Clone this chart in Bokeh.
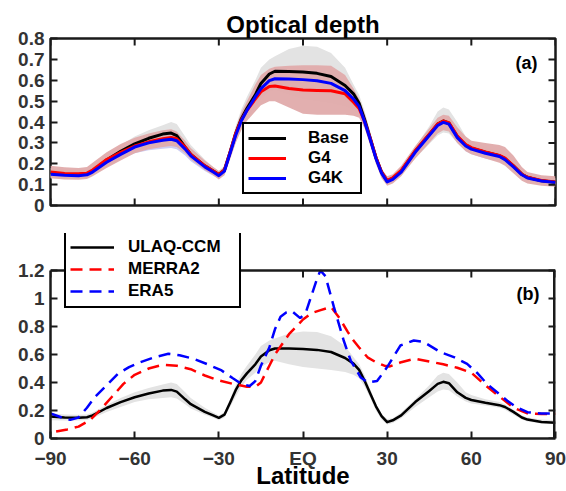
from bokeh.plotting import figure
from bokeh.models import Range1d, LinearAxis, FixedTicker, Legend, LegendItem, Label, Span
from bokeh.layouts import column
from bokeh.embed import file_html
from bokeh.resources import INLINE

# ---------------- data ----------------
lat = [-90, -85, -80, -77, -75, -70, -65, -60, -55, -50,
       -47, -45, -42, -40, -35, -32, -30, -28, -26, -24,
       -22, -20, -17, -15, -12, -10, -5, 0, 5, 10,
       15, 18, 20, 22, 24, 26, 28, 30, 32, 35,
       40, 45, 48, 50, 52, 55, 58, 60, 65, 70,
       72, 75, 78, 80, 85, 90]

base = [0.157, 0.150, 0.148, 0.152, 0.165, 0.218, 0.260, 0.295, 0.322, 0.342,
        0.347, 0.335, 0.280, 0.245, 0.190, 0.165, 0.148, 0.170, 0.255, 0.345,
        0.415, 0.465, 0.530, 0.585, 0.630, 0.643, 0.642, 0.640, 0.633, 0.618,
        0.575, 0.535, 0.490, 0.410, 0.320, 0.230, 0.160, 0.117, 0.130, 0.165,
        0.260, 0.340, 0.390, 0.405, 0.395, 0.330, 0.290, 0.275, 0.255, 0.238,
        0.225, 0.190, 0.150, 0.135, 0.118, 0.112]

g4 = [0.160, 0.153, 0.152, 0.155, 0.170, 0.220, 0.255, 0.285, 0.305, 0.320,
      0.326, 0.320, 0.280, 0.245, 0.190, 0.165, 0.148, 0.170, 0.255, 0.345,
      0.410, 0.455, 0.510, 0.545, 0.570, 0.572, 0.560, 0.553, 0.551, 0.550,
      0.535, 0.495, 0.465, 0.400, 0.320, 0.230, 0.160, 0.120, 0.133, 0.168,
      0.262, 0.342, 0.390, 0.405, 0.397, 0.333, 0.292, 0.277, 0.257, 0.240,
      0.227, 0.190, 0.150, 0.135, 0.120, 0.113]

g4k = [0.150, 0.145, 0.143, 0.147, 0.160, 0.207, 0.245, 0.280, 0.300, 0.313,
       0.317, 0.310, 0.270, 0.238, 0.185, 0.160, 0.143, 0.165, 0.250, 0.335,
       0.405, 0.455, 0.520, 0.560, 0.598, 0.607, 0.606, 0.603, 0.598, 0.585,
       0.550, 0.510, 0.475, 0.400, 0.315, 0.225, 0.155, 0.113, 0.125, 0.160,
       0.255, 0.335, 0.383, 0.398, 0.390, 0.325, 0.285, 0.270, 0.250, 0.235,
       0.220, 0.185, 0.147, 0.132, 0.117, 0.110]

base_hi = [0.180, 0.172, 0.170, 0.172, 0.185, 0.240, 0.290, 0.330, 0.360, 0.385,
           0.400, 0.390, 0.330, 0.290, 0.220, 0.185, 0.165, 0.190, 0.280, 0.380,
           0.460, 0.520, 0.600, 0.660, 0.700, 0.715, 0.750, 0.765, 0.760, 0.730,
           0.660, 0.580, 0.530, 0.450, 0.350, 0.250, 0.175, 0.140, 0.145, 0.185,
           0.280, 0.380, 0.450, 0.470, 0.460, 0.400, 0.330, 0.310, 0.280, 0.260,
           0.245, 0.205, 0.165, 0.150, 0.135, 0.130]

base_lo = [0.130, 0.128, 0.128, 0.132, 0.145, 0.190, 0.225, 0.260, 0.280, 0.290,
           0.295, 0.285, 0.245, 0.215, 0.170, 0.148, 0.130, 0.150, 0.225, 0.300,
           0.370, 0.420, 0.470, 0.510, 0.545, 0.555, 0.530, 0.510, 0.500, 0.490,
           0.475, 0.455, 0.430, 0.370, 0.290, 0.200, 0.135, 0.100, 0.110, 0.145,
           0.225, 0.295, 0.335, 0.350, 0.345, 0.300, 0.265, 0.250, 0.235, 0.220,
           0.205, 0.170, 0.135, 0.122, 0.108, 0.103]

g4_hi = [0.190, 0.183, 0.180, 0.185, 0.205, 0.255, 0.295, 0.325, 0.345, 0.360,
         0.365, 0.355, 0.310, 0.275, 0.215, 0.185, 0.165, 0.185, 0.275, 0.370,
         0.445, 0.500, 0.580, 0.625, 0.655, 0.665, 0.670, 0.672, 0.672, 0.670,
         0.625, 0.560, 0.510, 0.440, 0.350, 0.255, 0.175, 0.140, 0.150, 0.190,
         0.285, 0.370, 0.420, 0.435, 0.430, 0.375, 0.330, 0.310, 0.300, 0.290,
         0.280, 0.240, 0.185, 0.160, 0.145, 0.140]

g4_lo = [0.130, 0.125, 0.123, 0.127, 0.140, 0.180, 0.215, 0.250, 0.270, 0.280,
         0.285, 0.280, 0.250, 0.220, 0.170, 0.145, 0.125, 0.145, 0.220, 0.300,
         0.360, 0.405, 0.450, 0.480, 0.500, 0.500, 0.470, 0.440, 0.435, 0.435,
         0.435, 0.430, 0.420, 0.370, 0.285, 0.200, 0.130, 0.095, 0.105, 0.140,
         0.225, 0.300, 0.345, 0.360, 0.355, 0.300, 0.260, 0.245, 0.225, 0.205,
         0.190, 0.155, 0.118, 0.105, 0.095, 0.090]

g4k_lo = [0.135, 0.130, 0.128, 0.132, 0.145, 0.185, 0.220, 0.250, 0.265, 0.272,
          0.275, 0.270, 0.240, 0.212, 0.165, 0.143, 0.128, 0.148, 0.225, 0.305,
          0.370, 0.415, 0.470, 0.510, 0.550, 0.560, 0.560, 0.555, 0.550, 0.540,
          0.510, 0.475, 0.440, 0.370, 0.290, 0.205, 0.140, 0.100, 0.110, 0.145,
          0.230, 0.305, 0.350, 0.365, 0.360, 0.300, 0.260, 0.245, 0.225, 0.210,
          0.195, 0.165, 0.130, 0.118, 0.105, 0.100]

merra_lat = [-88, -84, -80, -76, -72, -68, -64, -60, -55, -50,
             -45, -40, -35, -30, -25, -20, -17, -15, -12, -10,
             -5, 0, 3, 6, 10, 13, 16, 18, 20, 23,
             26, 29, 31, 35, 40, 45, 50, 55, 60, 65,
             70, 75, 80, 85, 90]
merra2 = [0.050, 0.065, 0.085, 0.130, 0.210, 0.300, 0.390, 0.455, 0.500, 0.527,
          0.520, 0.495, 0.450, 0.415, 0.390, 0.370, 0.368, 0.400, 0.520, 0.600,
          0.745, 0.850, 0.895, 0.915, 0.940, 0.860, 0.760, 0.700, 0.650, 0.580,
          0.545, 0.520, 0.515, 0.545, 0.570, 0.550, 0.530, 0.505, 0.470, 0.380,
          0.300, 0.220, 0.180, 0.175, 0.176]

era_lat = [-90, -86, -83, -80, -77, -74, -70, -66, -62, -58,
           -53, -48, -44, -39, -34, -29, -25, -22, -19, -17,
           -15, -12, -10, -8, -6, -4, -1, 1, 3, 5,
           6.2, 8, 11, 14.5, 17, 20.5, 23, 26.4, 30, 34.7,
           39.5, 43, 49, 54, 58.5, 62, 65.6, 72.8, 76, 80,
           85, 90]
era5 = [0.180, 0.150, 0.133, 0.150, 0.220, 0.300, 0.380, 0.462, 0.510, 0.545,
        0.580, 0.605, 0.595, 0.569, 0.530, 0.486, 0.430, 0.390, 0.375, 0.410,
        0.520, 0.650, 0.780, 0.870, 0.900, 0.910, 0.860, 0.900, 1.020, 1.140,
        1.200, 1.160, 0.940, 0.700, 0.557, 0.438, 0.400, 0.410, 0.510, 0.664,
        0.700, 0.690, 0.617, 0.580, 0.533, 0.470, 0.390, 0.270, 0.225, 0.188,
        0.178, 0.180]

x_ticks = [-90, -60, -30, 0, 30, 60, 90]
x_labels = {0: "EQ"}
ya_ticks = [0, 0.1, 0.2, 0.3, 0.4, 0.5, 0.6, 0.7, 0.8]
ya_labels = {0: "0"}
yb_ticks = [0, 0.2, 0.4, 0.6, 0.8, 1.0, 1.2]
yb_labels = {0: "0", 1: "1"}

# ---------------- styling ----------------
FONT = "Liberation Sans"
AXC = "#1a1a1a"
TXT = "#333333"
W = 566
XMIN, XMAX = -90, 90
YA_TOP = 0.8
YB_TOP = 1.2
# panel (b): frame extends above the drawn box so the legend can overlap it
BOX_B_TOP, BOX_B_BOT, FRAME_B_TOP = 270, 438, 233
YB_FRAME_TOP = YB_TOP * (BOX_B_BOT - FRAME_B_TOP) / (BOX_B_BOT - BOX_B_TOP)
TICK = 7


def label_axis(ticks, overrides, standoff, bounds=None):
    ax = LinearAxis(ticker=FixedTicker(ticks=ticks, minor_ticks=[]),
                    major_label_overrides=overrides)
    if bounds is not None:
        ax.bounds = bounds
    ax.axis_line_color = AXC
    ax.axis_line_width = 2.5
    ax.major_tick_in = TICK
    ax.major_tick_out = 0
    ax.major_tick_line_width = 2
    ax.major_tick_line_color = AXC
    ax.minor_tick_line_color = None
    ax.major_label_text_font = FONT
    ax.major_label_text_font_size = "19px"
    ax.major_label_text_font_style = "bold"
    ax.major_label_text_color = TXT
    ax.major_label_standoff = standoff
    return ax


def base_fig(h, top, bottom, yr):
    p = figure(width=W, height=h, x_range=Range1d(XMIN, XMAX), y_range=yr,
               output_backend="svg", toolbar_location=None,
               x_axis_location=None, y_axis_location=None,
               min_border_left=50, min_border_right=11,
               min_border_top=top, min_border_bottom=bottom)
    p.xgrid.visible = False
    p.ygrid.visible = False
    p.background_fill_color = "white"
    p.border_fill_color = "white"
    return p


def inner_ticks(p, xs, ys, angle):
    p.ray(x=xs, y=ys, length=TICK, length_units="screen", angle=angle,
          angle_units="deg", line_color=AXC, line_width=2, line_cap="butt")


def style_legend(lg, gw, stand, lw, lh, size):
    lg.border_line_color = "black"
    lg.border_line_width = 2
    lg.border_line_alpha = 1
    lg.background_fill_color = "white"
    lg.background_fill_alpha = 1
    lg.label_text_font = FONT
    lg.label_text_font_size = size
    lg.label_text_font_style = "bold"
    lg.label_text_color = "black"
    lg.label_text_line_height = 1.0
    lg.glyph_width = gw
    lg.glyph_height = lh
    lg.label_height = lh
    lg.label_width = lw
    lg.label_standoff = stand
    lg.padding = 4
    lg.spacing = 0
    lg.margin = 0


# ---------------- panel (a) ----------------
p1 = base_fig(220, 38, 15, Range1d(0, YA_TOP))
p1.outline_line_color = AXC
p1.outline_line_width = 2.5
ax1 = label_axis(ya_ticks, ya_labels, 6)
ax1.axis_line_color = None
p1.add_layout(ax1, "left")
p1.title.text = "Optical depth"
p1.title.text_font = FONT
p1.title.text_font_size = "24px"
p1.title.text_font_style = "bold"
p1.title.text_color = "black"
p1.title.align = "center"
p1.title.standoff = 1

p1.varea(x=lat, y1=base_lo, y2=base_hi, fill_color="#e3e3e3", fill_alpha=1)
p1.varea(x=lat, y1=g4k_lo, y2=g4k, fill_color="#cdcdf2", fill_alpha=1)
p1.varea(x=lat, y1=g4_lo, y2=g4_hi, fill_color="#e0abab", fill_alpha=0.95)
r_base = p1.line(lat, base, line_color="black", line_width=3, line_join="round")
r_g4 = p1.line(lat, g4, line_color="#ff0000", line_width=3, line_join="round")
r_g4k = p1.line(lat, g4k, line_color="#0000ff", line_width=3, line_join="round")

inner_ticks(p1, x_ticks, [0] * len(x_ticks), 90)
inner_ticks(p1, x_ticks, [YA_TOP] * len(x_ticks), -90)
inner_ticks(p1, [XMAX] * len(ya_ticks), ya_ticks, 180)

lg1 = Legend(items=[LegendItem(label="Base", renderers=[r_base]),
                    LegendItem(label="G4", renderers=[r_g4]),
                    LegendItem(label="G4K", renderers=[r_g4k])],
             location=(192, 11))
style_legend(lg1, 38, 22, 48, 18, "17px")
p1.add_layout(lg1, "center")

p1.add_layout(Label(x=XMAX, y=YA_TOP, x_offset=-18, y_offset=-24, text="(a)",
                    text_font=FONT, text_font_size="18px", text_font_style="bold",
                    text_align="right", text_baseline="middle", text_color="black"))

# ---------------- panel (b) ----------------
p2 = base_fig(271, FRAME_B_TOP - 220, 491 - BOX_B_BOT, Range1d(0, YB_FRAME_TOP))
p2.outline_line_color = None
p2.add_layout(label_axis(yb_ticks, yb_labels, 6, bounds=(0, YB_TOP)), "left")
axb = label_axis(x_ticks, x_labels, 9)
axb.axis_label = "Latitude"
axb.axis_label_text_font = FONT
axb.axis_label_text_font_size = "24px"
axb.axis_label_text_font_style = "bold"
axb.axis_label_text_color = "black"
axb.axis_label_standoff = -10
p2.add_layout(axb, "below")

p2.varea(x=lat, y1=base_lo, y2=base_hi, fill_color="#e3e3e3", fill_alpha=1)
r_ulaq = p2.line(lat, base, line_color="black", line_width=2.5, line_join="round")
r_merra = p2.line(merra_lat, merra2, line_color="#ff0000", line_width=2.5,
                  line_dash="12 7")
r_era = p2.line(era_lat, era5, line_color="#0000ff", line_width=2.5,
                line_dash="12 7")

# box top and right side, with inward ticks
p2.segment(x0=[XMAX], y0=[0], x1=[XMAX], y1=[YB_TOP], line_color=AXC, line_width=5)
inner_ticks(p2, x_ticks, [YB_TOP] * len(x_ticks), -90)
inner_ticks(p2, [XMAX] * len(yb_ticks), yb_ticks, 180)
p2.add_layout(Span(location=YB_TOP, dimension="width", line_color=AXC, line_width=2.5))

lg2 = Legend(items=[LegendItem(label="ULAQ-CCM", renderers=[r_ulaq]),
                    LegendItem(label="MERRA2", renderers=[r_merra]),
                    LegendItem(label="ERA5", renderers=[r_era])],
             location=(14, 130))
style_legend(lg2, 44, 14, 107, 22, "17px")
p2.add_layout(lg2, "center")

p2.add_layout(Label(x=XMAX, y=YB_TOP, x_offset=-16, y_offset=-23, text="(b)",
                    text_font=FONT, text_font_size="18px", text_font_style="bold",
                    text_align="right", text_baseline="middle", text_color="black"))

layout = column(p1, p2)
open("out.html", "w").write(file_html(layout, INLINE))
